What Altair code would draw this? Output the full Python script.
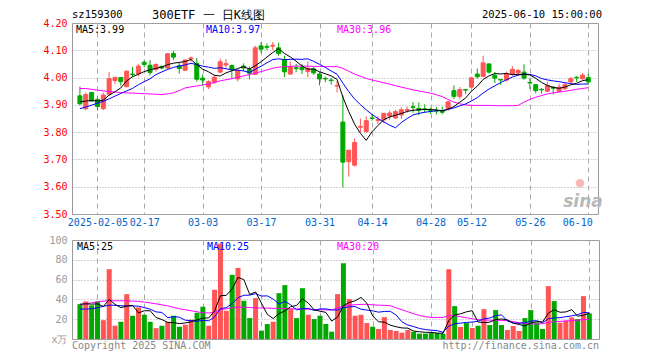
import altair as alt
import pandas as pd

# ---------------- data ----------------
dates = [
    "2025-01-23", "2025-01-24", "2025-01-27", "2025-02-05", "2025-02-06", "2025-02-07",
    "2025-02-10", "2025-02-11", "2025-02-12", "2025-02-13", "2025-02-14",
    "2025-02-17", "2025-02-18", "2025-02-19", "2025-02-20", "2025-02-21",
    "2025-02-24", "2025-02-25", "2025-02-26", "2025-02-27", "2025-02-28",
    "2025-03-03", "2025-03-04", "2025-03-05", "2025-03-06", "2025-03-07",
    "2025-03-10", "2025-03-11", "2025-03-12", "2025-03-13", "2025-03-14",
    "2025-03-17", "2025-03-18", "2025-03-19", "2025-03-20", "2025-03-21",
    "2025-03-24", "2025-03-25", "2025-03-26", "2025-03-27", "2025-03-28",
    "2025-03-31", "2025-04-01", "2025-04-02", "2025-04-03",
    "2025-04-07", "2025-04-08", "2025-04-09", "2025-04-10", "2025-04-11",
    "2025-04-14", "2025-04-15", "2025-04-16", "2025-04-17", "2025-04-18",
    "2025-04-21", "2025-04-22", "2025-04-23", "2025-04-24", "2025-04-25",
    "2025-04-28", "2025-04-29", "2025-04-30",
    "2025-05-06", "2025-05-07", "2025-05-08", "2025-05-09",
    "2025-05-12", "2025-05-13", "2025-05-14", "2025-05-15", "2025-05-16",
    "2025-05-19", "2025-05-20", "2025-05-21", "2025-05-22", "2025-05-23",
    "2025-05-26", "2025-05-27", "2025-05-28", "2025-05-29", "2025-05-30",
    "2025-06-03", "2025-06-04", "2025-06-05", "2025-06-06",
    "2025-06-09", "2025-06-10",
]

opens = [3.933, 3.886, 3.945, 3.920, 3.886, 3.939, 3.989, 4.000, 3.967, 4.013,
         4.014, 4.056, 4.045, 4.030, 4.041, 4.035, 4.088, 4.043, 4.027, 4.068,
         4.052, 3.998, 3.966, 3.983, 4.020, 4.046, 4.044, 3.995, 4.042, 4.030,
         4.012, 4.116, 4.114, 4.115, 4.109, 4.065, 4.013, 4.036, 4.038, 4.022,
         4.032, 4.013, 3.997, 3.991, 3.969, 3.837, 3.692, 3.679, 3.818, 3.802,
         3.852, 3.843, 3.845, 3.859, 3.852, 3.863, 3.880, 3.893, 3.887, 3.885,
         3.879, 3.879, 3.876, 3.887, 3.952, 3.931, 3.956, 3.965, 4.013, 4.004,
         4.050, 4.008, 3.993, 3.991, 4.011, 4.017, 4.020, 3.982, 3.974, 3.957,
         3.950, 3.965, 3.950, 3.959, 3.984, 4.001, 3.996, 4.000]
highs = [3.967, 3.945, 3.948, 3.931, 3.945, 4.021, 4.004, 4.001, 4.027, 4.038,
         4.050, 4.063, 4.064, 4.052, 4.044, 4.090, 4.098, 4.055, 4.068, 4.077,
         4.072, 4.012, 3.990, 4.010, 4.070, 4.068, 4.048, 4.030, 4.052, 4.040,
         4.117, 4.130, 4.125, 4.130, 4.128, 4.080, 4.059, 4.050, 4.050, 4.059,
         4.038, 4.020, 4.004, 3.999, 3.987, 3.935, 3.734, 3.777, 3.850, 3.858,
         3.866, 3.858, 3.869, 3.879, 3.882, 3.891, 3.894, 3.910, 3.909, 3.902,
         3.890, 3.892, 3.893, 3.915, 3.971, 3.965, 3.957, 4.003, 4.033, 4.080,
         4.052, 4.021, 3.994, 4.022, 4.042, 4.032, 4.049, 3.997, 3.975, 3.961,
         3.985, 3.968, 3.978, 3.980, 4.002, 4.005, 4.017, 4.015]
lows = [3.899, 3.881, 3.911, 3.879, 3.881, 3.933, 3.977, 3.970, 3.964, 4.002,
        4.004, 4.038, 4.008, 4.022, 4.030, 4.030, 4.064, 4.014, 4.024, 4.058,
        3.986, 3.970, 3.958, 3.977, 4.017, 4.036, 3.998, 3.986, 4.024, 3.994,
        4.010, 4.090, 4.100, 4.100, 4.080, 4.002, 4.010, 4.020, 4.013, 4.001,
        4.010, 3.971, 3.983, 3.974, 3.946, 3.597, 3.637, 3.674, 3.800, 3.798,
        3.842, 3.830, 3.833, 3.845, 3.848, 3.848, 3.871, 3.871, 3.862, 3.871,
        3.867, 3.865, 3.865, 3.878, 3.921, 3.921, 3.940, 3.962, 3.996, 4.002,
        4.015, 3.980, 3.973, 3.986, 4.007, 4.007, 3.992, 3.958, 3.942, 3.941,
        3.947, 3.938, 3.946, 3.955, 3.977, 3.984, 3.992, 3.975]
closes = [3.904, 3.938, 3.914, 3.894, 3.936, 3.996, 4.000, 3.985, 4.023, 4.011,
          4.042, 4.048, 4.019, 4.048, 4.035, 4.087, 4.075, 4.033, 4.064, 4.072,
          3.994, 3.991, 3.985, 4.001, 4.058, 4.051, 4.030, 4.026, 4.035, 4.016,
          4.109, 4.104, 4.111, 4.118, 4.088, 4.021, 4.040, 4.033, 4.029, 4.034,
          4.017, 3.995, 3.995, 3.989, 3.971, 3.690, 3.734, 3.762, 3.821, 3.842,
          3.850, 3.846, 3.869, 3.870, 3.875, 3.882, 3.883, 3.891, 3.880, 3.883,
          3.877, 3.877, 3.873, 3.911, 3.931, 3.956, 3.954, 3.999, 4.003, 4.054,
          4.020, 3.998, 3.991, 4.014, 4.030, 4.026, 3.998, 3.980, 3.952, 3.955,
          3.971, 3.961, 3.965, 3.974, 3.996, 3.999, 4.009, 3.984]
volumes = [35.2, 38.0, 34.0, 38.0, 19.0, 70.5, 13.4, 17.4, 45.3, 23.5,
           31.9, 24.5, 17.4, 11.0, 13.4, 17.4, 23.5, 12.4, 14.4, 19.5,
           26.5, 32.6, 13.4, 49.7, 96.3, 28.5, 64.8, 71.8, 38.6, 21.1,
           41.3, 8.4, 15.1, 17.4, 46.3, 54.4, 30.2, 21.1, 51.3, 24.5,
           20.1, 23.5, 15.1, 7.4, 45.3, 76.5, 40.3, 23.5, 24.5, 16.1,
           12.4, 10.1, 22.1, 9.1, 8.1, 6.4, 9.1, 7.4, 5.4, 5.4,
           6.0, 6.0, 5.4, 70.5, 33.2, 12.1, 16.1, 11.1, 13.4, 30.2,
           14.1, 29.2, 14.1, 9.1, 13.1, 8.1, 21.1, 29.2, 16.8, 10.1,
           53.4, 38.3, 16.4, 18.5, 21.8, 20.1, 43.3, 25.8]
ma30_price = [3.960, 3.960, 3.957, 3.954, 3.951, 3.949, 3.947, 3.945, 3.944, 3.943,
              3.942, 3.941, 3.940, 3.939, 3.938, 3.940, 3.944, 3.952, 3.962, 3.966,
              3.969, 3.973, 3.977, 3.982, 3.988, 3.992, 3.996, 4.001, 4.006, 4.011,
              4.016, 4.022, 4.028, 4.034, 4.038, 4.040, 4.041, 4.042, 4.042, 4.042,
              4.041, 4.041, 4.040, 4.040, 4.040, 4.034, 4.023, 4.013, 4.005, 3.997,
              3.991, 3.986, 3.981, 3.976, 3.970, 3.965, 3.960, 3.955, 3.951, 3.947,
              3.943, 3.937, 3.930, 3.920, 3.910, 3.904, 3.900, 3.898, 3.898, 3.898,
              3.898, 3.897, 3.897, 3.897, 3.897, 3.898, 3.910, 3.920, 3.928, 3.934,
              3.940, 3.944, 3.947, 3.950, 3.953, 3.957, 3.960, 3.963]
ma30_vol = [34.5, 35.5, 36.5, 37.5, 38.3, 38.6, 38.6, 38.6, 38.5, 38.3,
            38.0, 37.3, 36.5, 35.5, 34.5, 33.5, 32.0, 30.5, 29.5, 28.5,
            27.5, 26.5, 26.3, 26.8, 29.8, 30.5, 31.5, 32.3, 32.0, 31.8,
            31.5, 31.3, 31.2, 31.0, 31.0, 30.8, 30.6, 30.4, 30.2, 30.0,
            29.8, 29.6, 29.4, 29.2, 31.5, 33.0, 34.2, 34.6, 35.0, 35.0,
            34.5, 34.2, 34.0, 33.6, 31.5, 29.5, 27.5, 25.5, 23.8, 22.5,
            21.8, 21.8, 21.8, 23.5, 23.5, 22.5, 21.5, 20.5, 19.5, 19.3,
            19.0, 19.0, 18.8, 18.5, 17.5, 16.5, 15.8, 15.3, 15.1, 15.5,
            16.8, 17.3, 17.8, 18.2, 18.5, 19.0, 19.6, 20.0]
# first values of the short moving averages (their
# windows reach back before the first candle shown)
ma5_lead = [3.911, 3.914, 3.916, 3.914]
ma10_lead = [3.886, 3.892, 3.899, 3.906, 3.913, 3.922, 3.932, 3.942, 3.951]
vma5_lead = [35.2, 35.5, 35.2, 35.5]
vma10_lead = [30.2, 30.2, 30.5, 31.5, 33.0, 34.2, 34.0, 33.6, 33.6]

tick_idx = [3, 11, 21, 31, 41, 50, 60, 67, 77, 87]
tick_labels = ["2025-02-05", "02-17", "03-03", "03-17", "03-31",
               "04-14", "04-28", "05-12", "05-26", "06-10"]
price_ticks = [3.50, 3.60, 3.70, 3.80, 3.90, 4.00, 4.10, 4.20]
vol_ticks = [0, 20, 40, 60, 80, 100]

# ---------------- styling ----------------
RED = "#ff5555"
GREEN = "#00a800"
GRID = "#a8a8a8"
MONO = "DejaVu Sans Mono"
W = 526
HP = 191
HV = 99
X_DOMAIN = [-0.5, 87.8]

n = len(dates)


def pad(lead):
    return list(lead) + [None] * (n - len(lead))


df = pd.DataFrame({
    "i": list(range(n)), "date": dates, "open": opens, "high": highs,
    "low": lows, "close": closes, "volume": volumes,
    "ma30": ma30_price, "vma30": ma30_vol,
    "ma5_lead": pad(ma5_lead), "ma10_lead": pad(ma10_lead),
    "vma5_lead": pad(vma5_lead), "vma10_lead": pad(vma10_lead),
})

one = pd.DataFrame({"k": [0]})

label_expr = ("[" + ",".join("'%s'" % t for t in tick_labels) + "][indexof(["
              + ",".join(str(t) for t in tick_idx) + "], datum.value)]")

xscale = alt.Scale(domain=X_DOMAIN, nice=False, zero=False)
pscale = alt.Scale(domain=[3.5, 4.2], nice=False, zero=False)
vscale = alt.Scale(domain=[0, 100], nice=False, zero=False)
color_cond = alt.condition("datum.close >= datum.open", alt.value(RED), alt.value(GREEN))

x_axis_price = alt.Axis(
    values=tick_idx, labelExpr=label_expr, grid=True, gridDash=[5, 4], gridColor=GRID,
    ticks=False, domain=False, labelColor="#0066cc", labelFont=MONO, labelFontSize=10,
    labelPadding=3,
    labelAlign={"condition": {"test": "datum.value === 87", "value": "right"}, "value": "center"},
    labelOffset={"condition": {"test": "datum.value === 87", "value": 4}, "value": 0},
    title=None,
)
y_axis_price = alt.Axis(
    values=price_ticks, format=".2f", grid=True, gridDash=[1, 2], gridColor=GRID,
    ticks=False, domain=False, labelColor="#ff0000", labelFont=MONO, labelFontSize=10,
    labelPadding=5, title=None,
)
x_axis_vol = alt.Axis(values=tick_idx, labels=False, grid=True, gridDash=[5, 4],
                      gridColor=GRID, ticks=False, domain=False, title=None)
y_axis_vol = alt.Axis(
    values=vol_ticks, labelExpr="datum.value == 0 ? 'x万' : datum.value",
    grid=True, gridDash=[1, 2], gridColor=GRID, ticks=False, domain=False,
    labelColor="#999999", labelFont=MONO, labelFontSize=10, labelPadding=5, title=None,
)


def px(field):
    return alt.X(field, type="quantitative", scale=xscale, axis=x_axis_price)


def py(field):
    return alt.Y(field, type="quantitative", scale=pscale, axis=y_axis_price)


def vx(field):
    return alt.X(field, type="quantitative", scale=xscale, axis=x_axis_vol)


def vy(field):
    return alt.Y(field, type="quantitative", scale=vscale, axis=y_axis_vol)


def moving(chart, src, k, name):
    lead = name + "_lead"
    return chart.transform_window(
        **{name + "_w": "mean(%s)" % src}, frame=[-(k - 1), 0], sort=[alt.SortField("i")]
    ).transform_calculate(
        **{name: "datum.i < %d ? datum.%s : datum.%s_w" % (k - 1, lead, name)}
    )


base = alt.Chart(df)

wick = base.mark_rule(strokeWidth=1).encode(
    x=px("i"), y=py("low"), y2="high:Q", color=color_cond)
body = base.mark_bar(size=4, strokeWidth=1).encode(
    x=px("i"), y=py("open"), y2="close:Q", color=color_cond, stroke=color_cond)
ma5 = moving(base, "close", 5, "ma5").mark_line(color="black", strokeWidth=1).encode(
    x=px("i"), y=py("ma5"))
ma10 = moving(base, "close", 10, "ma10").mark_line(color="#0000ff", strokeWidth=1).encode(
    x=px("i"), y=py("ma10"))
ma30 = base.mark_line(color="#ff00ff", strokeWidth=1).encode(x=px("i"), y=py("ma30"))


def label(text, x, y, color="black", size=10, align="left", font=MONO, **kw):
    return alt.Chart(one).mark_text(
        text=text, align=align, baseline="middle", font=font, fontSize=size,
        color=color, **kw
    ).encode(x=alt.value(x), y=alt.value(y))


price_texts = [
    label("sz159300", 0, -8, size=10.5),
    label("300ETF 一 日K线图", 80, -8, size=12),
    label("2025-06-10 15:00:00", 530, -8, size=10.5, align="right"),
    label("MA5:3.99", 4, 7),
    label("MA10:3.97", 134, 7, color="#0000ff"),
    label("MA30:3.96", 265, 7, color="#ff00ff"),
    label("●", 508, 160, color="#f3a6a6", size=11, align="center",
          font="DejaVu Sans", opacity=0.8),
    label("sina", 511, 179, color="#b8b8b8", size=17, align="center",
          font="DejaVu Sans", fontStyle="italic", fontWeight="bold"),
]

price = alt.layer(wick, body, ma30, ma10, ma5, *price_texts).properties(width=W, height=HP)

vbars = base.mark_bar(size=5).encode(x=vx("i"), y=vy("volume"), color=color_cond)
vma5 = moving(base, "volume", 5, "vma5").mark_line(color="black", strokeWidth=1).encode(
    x=vx("i"), y=vy("vma5"))
vma10 = moving(base, "volume", 10, "vma10").mark_line(color="#0000ff", strokeWidth=1).encode(
    x=vx("i"), y=vy("vma10"))
vma30 = base.mark_line(color="#ff00ff", strokeWidth=1).encode(x=vx("i"), y=vy("vma30"))

vol_texts = [
    label("MA5:25", 5, 7),
    label("MA10:25", 135, 7, color="#0000ff"),
    label("MA30:20", 265, 7, color="#ff00ff"),
    label("Copyright 2025 SINA.COM", 0, HV + 7, color="#888888"),
    label("http://finance.sina.com.cn", W + 1, HV + 7, color="#888888", align="right"),
]

vol = alt.layer(vbars, vma30, vma10, vma5, *vol_texts).properties(width=W + 1, height=HV)

chart = alt.vconcat(price, vol, spacing=6).properties(
    padding={"left": 34, "top": 0, "right": 0, "bottom": 0},
    background="white",
).configure_view(stroke="#999999", strokeWidth=1)

chart.save("out.html", embed_options={"renderer": "svg", "actions": False})
